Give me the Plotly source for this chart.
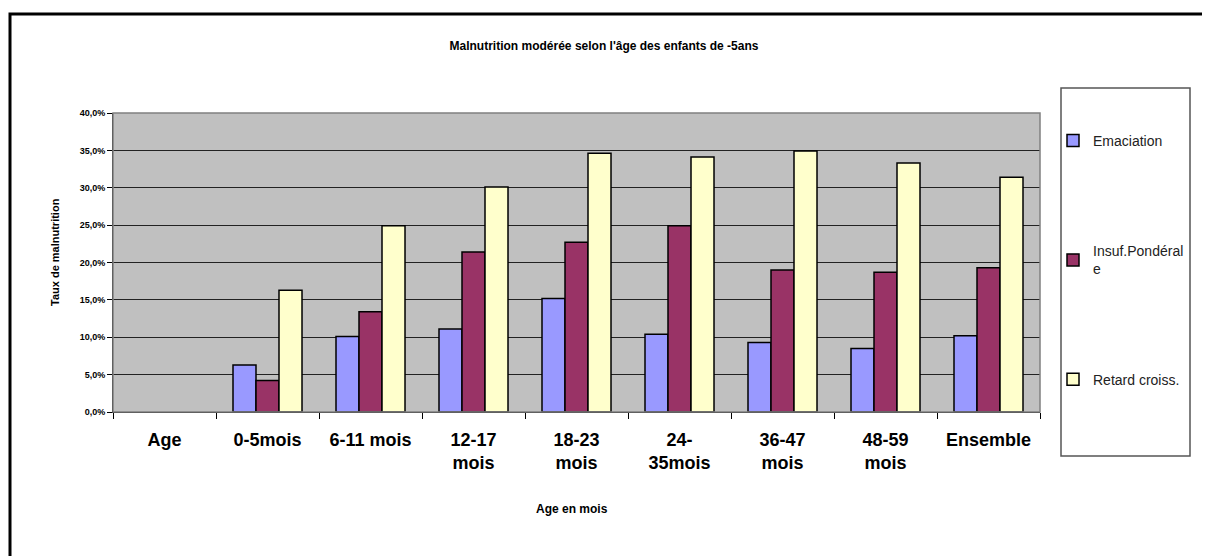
import plotly.graph_objects as go

categories = ["Age", "0-5mois", "6-11 mois", "12-17<br>mois", "18-23<br>mois",
              "24-<br>35mois", "36-47<br>mois", "48-59<br>mois", "Ensemble"]
emaciation = [None, 0.063, 0.101, 0.111, 0.152, 0.104, 0.093, 0.085, 0.102]
insuf_ponderale = [None, 0.042, 0.134, 0.214, 0.227, 0.249, 0.190, 0.187, 0.193]
retard_croiss = [None, 0.163, 0.249, 0.301, 0.346, 0.341, 0.349, 0.333, 0.314]

series_names = ["Emaciation", "Insuf.Pondéral<br>e", "Retard croiss."]
series_values = [emaciation, insuf_ponderale, retard_croiss]
series_colors = ["#9999FF", "#993366", "#FFFFCC"]

fig = go.Figure()
for i, (name, vals, col) in enumerate(zip(series_names, series_values, series_colors)):
    fig.add_trace(go.Bar(
        x=categories, y=vals, name=name, legendgroup=f"g{i}",
        marker=dict(color=col, line=dict(color="#000000", width=1.5)),
    ))

OFF = 8  # page body margin
W, H = 1210 - OFF, 556 - OFF
L, T = 113 - OFF, 113 - OFF
R = W - (1040 - OFF)
B = H - (412 - OFF)
pw, ph = W - L - R, H - T - B

def px(x):
    return (x - OFF - L) / pw

def py(y):
    return 1 - (y - OFF - T) / ph

fig.update_layout(
    width=W, height=H,
    margin=dict(l=L, r=R, t=T, b=B),
    paper_bgcolor="white",
    plot_bgcolor="#C0C0C0",
    barmode="group", bargap=0.33, bargroupgap=0,
    separators=", ",
    font=dict(family="Arial, Liberation Sans", color="#000000"),
    title=dict(text="Malnutrition modérée selon l'âge des enfants de -5ans",
               x=(604 - OFF) / W, xanchor="center", y=1 - (46 - OFF) / H, yanchor="middle",
               font=dict(size=12, weight="bold", color="#000000")),
    legend=dict(x=px(1053), xanchor="left", y=py(125), yanchor="top",
                traceorder="grouped", tracegroupgap=89,
                bgcolor="rgba(0,0,0,0)", borderwidth=0,
                font=dict(size=14, color="#222222")),
    xaxis=dict(showline=True, linecolor="#000000", linewidth=1,
               ticks="outside", tickson="boundaries", ticklen=6, tickcolor="#000000",
               ticklabelstandoff=11,
               tickfont=dict(size=18, weight="bold", color="#000000"),
               showgrid=False),
    yaxis=dict(range=[0, 0.4], dtick=0.05, tickformat=".1%",
               showline=True, linecolor="#000000", linewidth=1,
               ticks="outside", ticklen=5, tickcolor="#000000",
               tickfont=dict(size=9, weight="bold", color="#000000"),
               showgrid=True, gridcolor="#222222", gridwidth=1, zeroline=False),
    shapes=[
        dict(type="rect", xref="paper", yref="paper", x0=0, x1=1, y0=0, y1=1,
             line=dict(color="#808080", width=1.5), layer="above"),
        dict(type="rect", xref="paper", yref="paper",
             x0=px(1061), x1=px(1190), y0=py(456), y1=py(88),
             line=dict(color="#555555", width=1.5)),
        dict(type="rect", xref="paper", yref="paper",
             x0=px(10), x1=px(1230), y0=py(580), y1=py(14),
             line=dict(color="#000000", width=3)),
    ],
    annotations=[
        dict(text="Age en mois", xref="paper", yref="paper", x=px(572), y=py(509),
             showarrow=False, xanchor="center", yanchor="middle",
             font=dict(size=12, weight="bold", color="#000000")),
        dict(text="Taux de malnutrition", xref="paper", yref="paper", x=px(55), y=py(252),
             showarrow=False, xanchor="center", yanchor="middle", textangle=-90,
             font=dict(size=11, weight="bold", color="#000000")),
    ],
)

fig.write_html("out.html")
